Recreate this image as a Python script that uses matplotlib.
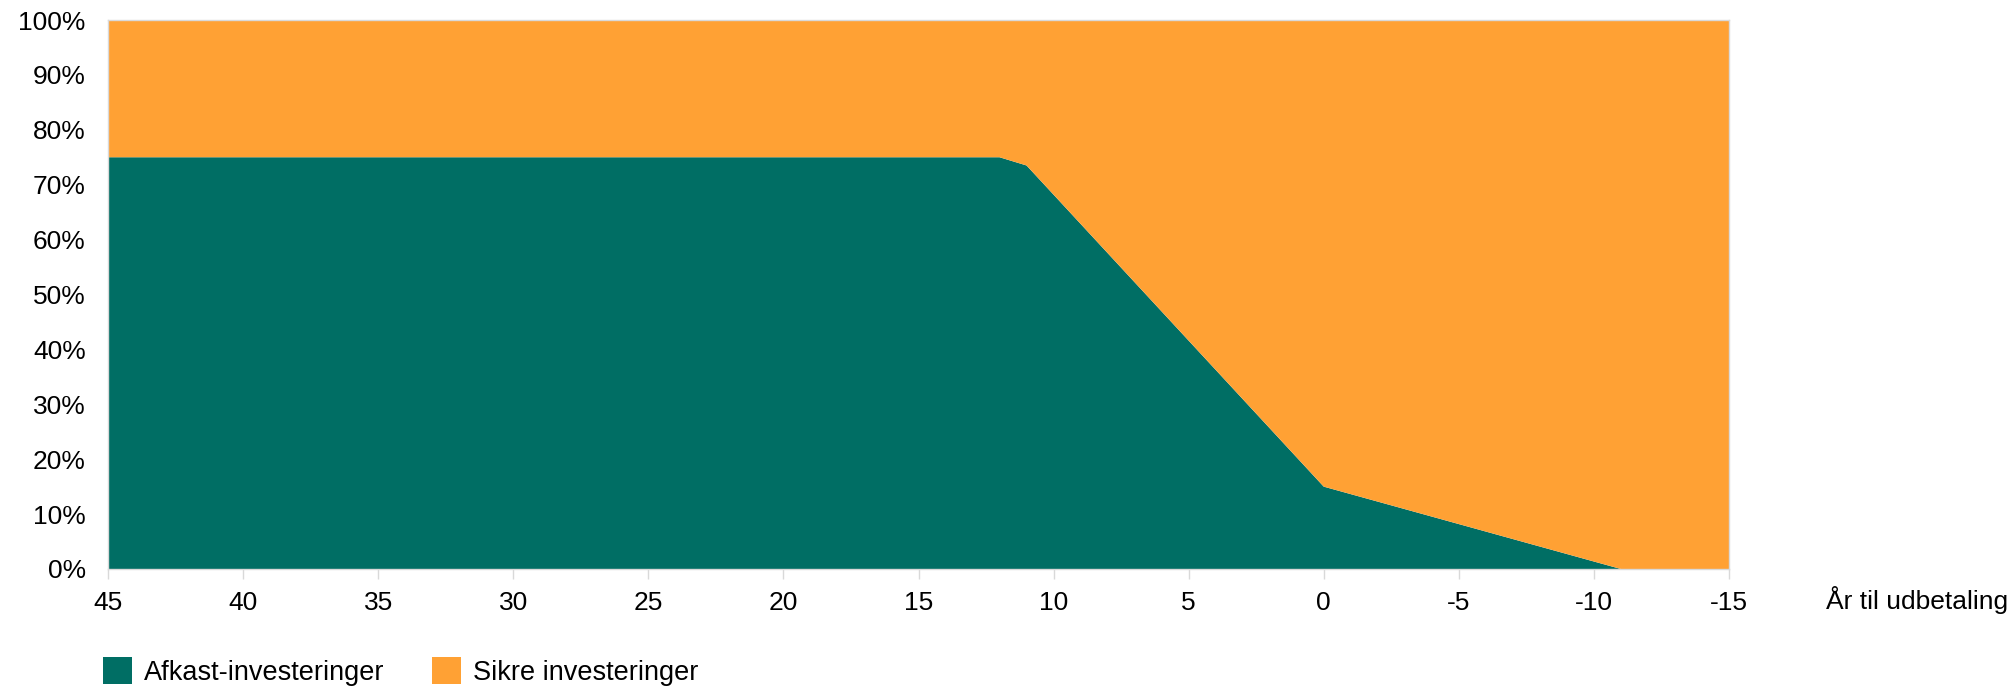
import matplotlib
matplotlib.use("Agg")
import matplotlib.pyplot as plt
from matplotlib.patches import Patch
from matplotlib import font_manager

plt.rcParams["font.family"] = ["Liberation Sans", "DejaVu Sans"]

# ---------- data ----------
years = [45, 12, 11, 0, -11, -15]
afkast = [75, 75, 73.5, 15, 0, 0]      # Afkast-investeringer (%)
sikre = [25, 25, 26.5, 85, 100, 100]   # Sikre investeringer (%)
x_ticks = [45, 40, 35, 30, 25, 20, 15, 10, 5, 0, -5, -10, -15]
y_ticks = [0, 10, 20, 30, 40, 50, 60, 70, 80, 90, 100]
labels = ["Afkast-investeringer", "Sikre investeringer"]
colors = ["#006E64", "#FFA134"]

W, H = 2016, 686
fig = plt.figure(figsize=(W / 100, H / 100), dpi=100)
ax = fig.add_axes([108 / W, 1 - 569 / H, (1729 - 108) / W, (569 - 20) / H])

ax.stackplot(years, afkast, sikre, colors=colors, linewidth=0)

ax.set_xlim(45, -15)
ax.set_ylim(0, 100)
ax.set_xticks(x_ticks)
ax.set_xticklabels([str(v) for v in x_ticks])
ax.set_yticks(y_ticks)
ax.set_yticklabels([f"{v}%" for v in y_ticks])

ax.tick_params(axis="x", length=7, color="#d9d9d9", width=1, pad=9, labelsize=19)
ax.tick_params(axis="y", length=0, pad=16, labelsize=19)
for s in ax.spines.values():
    s.set_color("#d9d9d9")
    s.set_linewidth(1)

fig.text(1826 / W, 1 - 600 / H, "År til udbetaling", fontsize=19, va="center", ha="left")

# legend text is in a condensed face
names = {f.name for f in font_manager.fontManager.ttflist}
leg_family = "Liberation Sans Narrow" if "Liberation Sans Narrow" in names else "Liberation Sans"
handles = [Patch(facecolor=c, edgecolor="none") for c in colors]
fig.legend(handles, labels, ncol=2, loc="lower left",
           bbox_to_anchor=(103 / W, 0.0), frameon=False,
           prop={"family": leg_family, "size": 19.5},
           handlelength=1.07, handleheight=1.15, handletextpad=0.45,
           columnspacing=1.75, borderpad=0, borderaxespad=0)

fig.savefig("out.png", dpi=100)
